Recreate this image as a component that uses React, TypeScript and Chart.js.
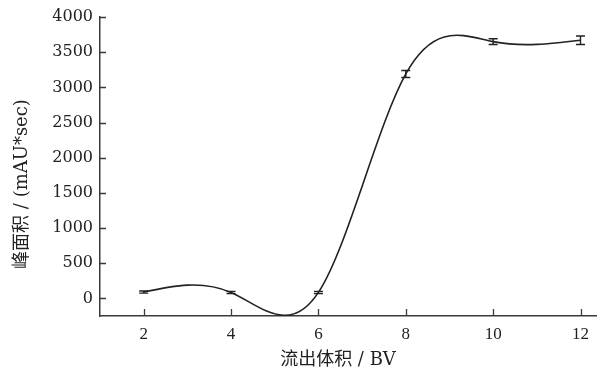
import { useEffect, useRef } from "react";
import { Chart, registerables } from "chart.js";

Chart.register(...registerables);

const volumes = [2, 4, 6, 8, 10, 12];
const peakAreas = [90, 85, 85, 3190, 3650, 3670];
const errors = [15, 15, 15, 50, 40, 60];
const xTicks = [2, 4, 6, 8, 10, 12];
const yTicks = [0, 500, 1000, 1500, 2000, 2500, 3000, 3500, 4000];
const xTitle = "流出体积 / BV";
const yTitle = "峰面积 / (mAU*sec)";

const INK = "#222";
const AXIS = "#3a3a3a";

function applyNaturalSpline(pts: any[]) {
  const n = pts.length;
  if (n < 3) return;
  const xs = pts.map((p) => p.x);
  const ys = pts.map((p) => p.y);
  const h: number[] = [];
  for (let i = 0; i < n - 1; i++) h[i] = xs[i + 1] - xs[i];
  const M = new Array(n).fill(0);
  const k = n - 2;
  const a: number[] = [], b: number[] = [], c: number[] = [], d: number[] = [];
  for (let j = 0; j < k; j++) {
    const i = j + 1;
    a[j] = h[i - 1];
    b[j] = 2 * (h[i - 1] + h[i]);
    c[j] = h[i];
    d[j] = 6 * ((ys[i + 1] - ys[i]) / h[i] - (ys[i] - ys[i - 1]) / h[i - 1]);
  }
  for (let j = 1; j < k; j++) {
    const w = a[j] / b[j - 1];
    b[j] -= w * c[j - 1];
    d[j] -= w * d[j - 1];
  }
  const sol = new Array(k).fill(0);
  sol[k - 1] = d[k - 1] / b[k - 1];
  for (let j = k - 2; j >= 0; j--) sol[j] = (d[j] - c[j] * sol[j + 1]) / b[j];
  for (let j = 0; j < k; j++) M[j + 1] = sol[j];
  const m: number[] = [];
  for (let i = 0; i < n - 1; i++) {
    m[i] = (ys[i + 1] - ys[i]) / h[i] - (h[i] * (2 * M[i] + M[i + 1])) / 6;
  }
  m[n - 1] = (ys[n - 1] - ys[n - 2]) / h[n - 2] + (h[n - 2] * (M[n - 2] + 2 * M[n - 1])) / 6;
  for (let i = 0; i < n - 1; i++) {
    pts[i].cp2x = xs[i] + h[i] / 3;
    pts[i].cp2y = ys[i] + (m[i] * h[i]) / 3;
    pts[i + 1].cp1x = xs[i + 1] - h[i] / 3;
    pts[i + 1].cp1y = ys[i + 1] - (m[i + 1] * h[i]) / 3;
  }
  pts[0].cp1x = xs[0];
  pts[0].cp1y = ys[0];
  pts[n - 1].cp2x = xs[n - 1];
  pts[n - 1].cp2y = ys[n - 1];
}

const splinePlugin = {
  id: "naturalSpline",
  beforeDatasetsDraw(chart: any) {
    const meta = chart.getDatasetMeta(0);
    const line = meta.dataset;
    if (line && line.updateControlPoints) {
      line.updateControlPoints(chart.chartArea, "x");
    }
    applyNaturalSpline(meta.data);
  },
};

const decorPlugin = {
  id: "decor",
  afterDraw(chart: any) {
    const ctx = chart.ctx;
    const xs = chart.scales.x;
    const ys = chart.scales.y;
    const area = chart.chartArea;
    ctx.save();
    // inward ticks
    ctx.strokeStyle = AXIS;
    ctx.lineWidth = 1.3;
    ctx.beginPath();
    yTicks.forEach((v) => {
      const py = Math.round(ys.getPixelForValue(v)) + 0.5;
      ctx.moveTo(area.left, py);
      ctx.lineTo(area.left + 6, py);
    });
    xTicks.forEach((v) => {
      const px = Math.round(xs.getPixelForValue(v)) + 0.5;
      ctx.moveTo(px, area.bottom);
      ctx.lineTo(px, area.bottom - 7);
    });
    ctx.stroke();
    // error bars
    ctx.strokeStyle = INK;
    ctx.lineWidth = 1.4;
    ctx.beginPath();
    volumes.forEach((v, i) => {
      const px = xs.getPixelForValue(v);
      const top = ys.getPixelForValue(peakAreas[i] + errors[i]);
      const bot = ys.getPixelForValue(peakAreas[i] - errors[i]);
      ctx.moveTo(px, top);
      ctx.lineTo(px, bot);
      ctx.moveTo(px - 4.5, top);
      ctx.lineTo(px + 4.5, top);
      ctx.moveTo(px - 4.5, bot);
      ctx.lineTo(px + 4.5, bot);
    });
    ctx.stroke();
    // axis titles
    ctx.fillStyle = INK;
    ctx.font = '18px "DejaVu Serif", "Noto Sans CJK SC", serif';
    ctx.textAlign = "center";
    ctx.textBaseline = "middle";
    ctx.fillText(xTitle, 338, 360);
    ctx.translate(22, 184);
    ctx.rotate(-Math.PI / 2);
    ctx.fillText(yTitle, 0, 0);
    ctx.restore();
  },
};

export default function App() {
  const ref = useRef<HTMLCanvasElement | null>(null);
  useEffect(() => {
    if (!ref.current) return;
    const chart = new Chart(ref.current, {
      type: "line",
      data: {
        datasets: [
          {
            data: volumes.map((v, i) => ({ x: v, y: peakAreas[i] })),
            borderColor: INK,
            borderWidth: 1.6,
            pointRadius: 0,
            tension: 0.4,
            fill: false,
          },
        ],
      },
      options: {
        animation: false,
        responsive: false,
        maintainAspectRatio: false,
        layout: { padding: { top: 17, left: 0, right: 0, bottom: 0 } },
        elements: { line: { capBezierPoints: false } },
        plugins: {
          legend: { display: false },
          tooltip: { enabled: false },
        },
        scales: {
          x: {
            type: "linear",
            min: 1,
            max: 12.36,
            afterBuildTicks: (s: any) => {
              s.ticks = xTicks.map((v) => ({ value: v }));
            },
            afterFit: (s: any) => {
              s.height = 55;
            },
            grid: { display: false, drawTicks: false },
            border: { display: true, color: AXIS, width: 1.5 },
            ticks: {
              color: INK,
              padding: 8,
              maxRotation: 0,
              callback: (v: any) => String(v),
              font: { family: '"Liberation Serif", serif', size: 17 },
            },
          },
          y: {
            type: "linear",
            min: -250,
            max: 4000,
            afterBuildTicks: (s: any) => {
              s.ticks = yTicks.map((v) => ({ value: v }));
            },
            afterFit: (s: any) => {
              s.width = 100;
            },
            grid: { display: false, drawTicks: false },
            border: { display: true, color: AXIS, width: 1.5 },
            ticks: {
              color: INK,
              padding: 7,
              callback: (v: any) => String(v),
              font: { family: '"DejaVu Serif", serif', size: 16 },
            },
          },
        },
      },
      plugins: [splinePlugin, decorPlugin],
    });
    return () => chart.destroy();
  }, []);
  return (
    <div style={{ position: "absolute", left: 0, top: 0, width: 597, height: 371, background: "#fff" }}>
      <canvas ref={ref} width={597} height={371} style={{ display: "block" }} />
    </div>
  );
}
